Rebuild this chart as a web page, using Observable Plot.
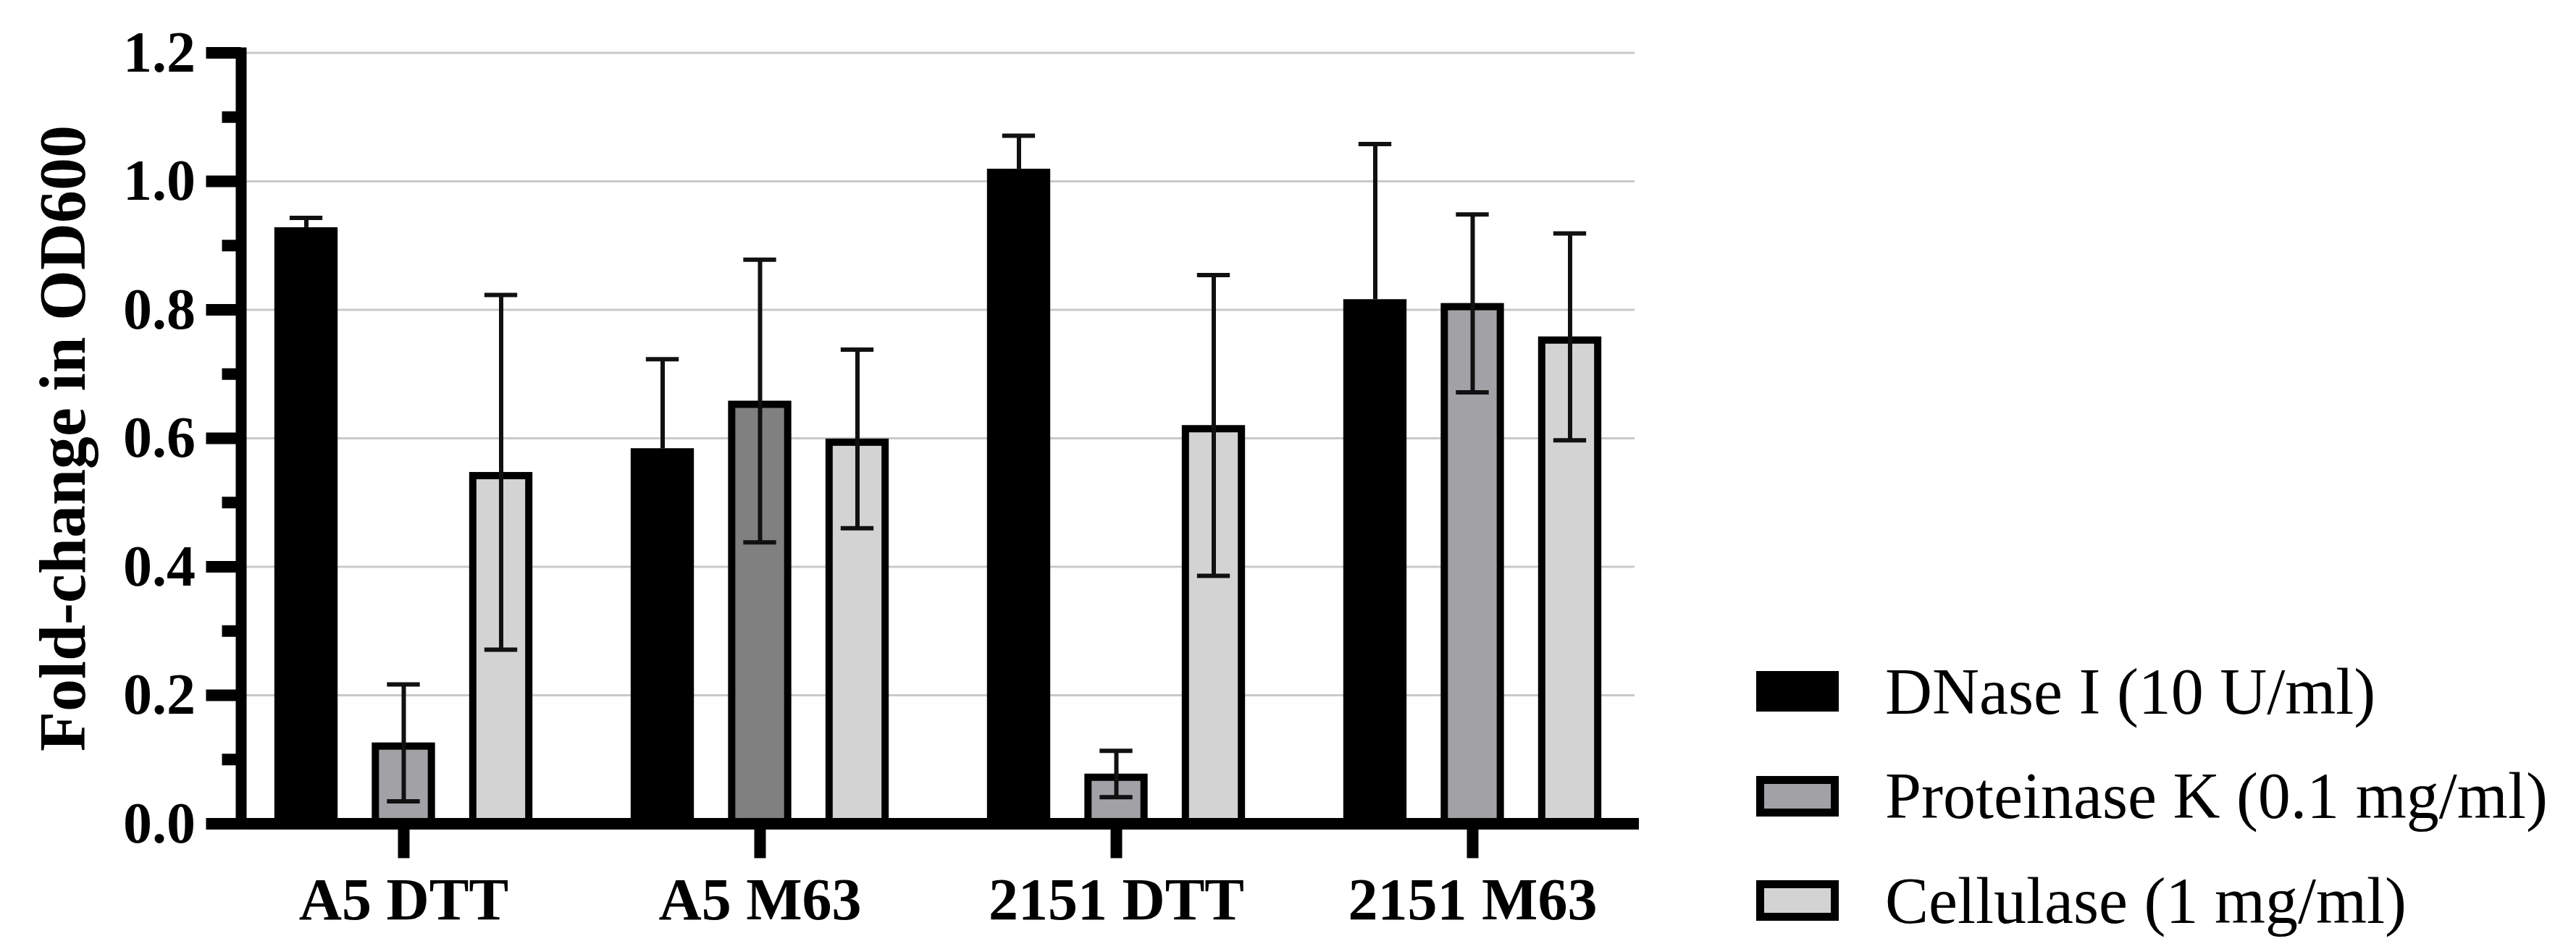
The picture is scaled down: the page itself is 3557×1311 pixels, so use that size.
<!DOCTYPE html>
<html>
<head>
<meta charset="utf-8">
<script src="https://cdn.jsdelivr.net/npm/d3@7"></script>
<script src="https://cdn.jsdelivr.net/npm/@observablehq/plot@0.6"></script>
<style>
html, body { margin: 0; padding: 0; background: #fff; }
#wrap { position: relative; width: 3557px; height: 1311px; overflow: hidden; background: #fff; }
#legend { position: absolute; left: 2425px; top: 882.75px; font-family: "Liberation Serif", "Times New Roman", serif; font-size: 90px; color: #000; }
.row { display: flex; align-items: center; height: 144.5px; white-space: nowrap; }
.sw { width: 114px; height: 56px; box-sizing: border-box; margin-right: 64px; flex: none; }
</style>
</head>
<body>
<div id="wrap"></div>
<script>
// ---- data ----
const categories = ["A5 DTT", "A5 M63", "2151 DTT", "2151 M63"];
const seriesNames = ["DNase I (10 U/ml)", "Proteinase K (0.1 mg/ml)", "Cellulase (1 mg/ml)"];
const dnaseMean = [0.928, 0.584, 1.019, 0.816];
const dnaseErr  = [0.015, 0.139, 0.052, 0.242];
const protKMean = [0.126, 0.658, 0.0775, 0.810];
const protKErr  = [0.091, 0.220, 0.036, 0.1385];
const cellMean  = [0.547, 0.599, 0.620, 0.758];
const cellErr   = [0.276, 0.139, 0.234, 0.161];
const yTicks = [0.0, 0.2, 0.4, 0.6, 0.8, 1.0, 1.2];
const yMinorTicks = [0.1, 0.3, 0.5, 0.7, 0.9, 1.1];
const yLabel = "Fold-change in OD600";

// ---- build table ----
const seriesMeans = [dnaseMean, protKMean, cellMean];
const seriesErrs = [dnaseErr, protKErr, cellErr];
const rows = seriesNames.flatMap((name, si) =>
  categories.map((c, i) => ({category: c, series: name, si, mean: seriesMeans[si][i], err: seriesErrs[si][i]}))
);

// ---- styles ----
const xRange = [309.7, 2280.3];
const bw = (xRange[1] - xRange[0]) / categories.length;
const barW = 78, capW = 46;
const offsets = [-134.5, 0, 134.5];
const protGrey = "#a2a2a6";
const fills = [
  () => "#000000",
  d => d.category === "A5 M63" ? "#808080" : protGrey,
  () => "#d3d3d3"
];
const swatchFill = ["#000000", protGrey, "#d3d3d3"];

const marks = [
  Plot.gridY({ticks: yTicks.filter(v => v > 0), stroke: "#c9c9c9", strokeOpacity: 1, strokeWidth: 3, insetRight: 6})
];
seriesNames.forEach((name, si) => {
  const data = rows.filter(d => d.si === si);
  marks.push(Plot.barY(data, {
    x: "category", y: "mean", fill: fills[si], stroke: "#000", strokeWidth: 10,
    insetLeft: (bw - barW) / 2, insetRight: (bw - barW) / 2, insetTop: 5, dx: offsets[si]
  }));
});
seriesNames.forEach((name, si) => {
  const data = rows.filter(d => d.si === si);
  // the lower half of the error bar is hidden inside the solid black bars
  const showLower = si !== 0;
  marks.push(Plot.ruleX(data, {x: "category", y1: d => showLower ? d.mean - d.err : d.mean, y2: d => d.mean + d.err, stroke: "#111", strokeWidth: 6, dx: offsets[si]}));
  marks.push(Plot.tickY(data, {x: "category", y: d => d.mean + d.err, stroke: "#111", strokeWidth: 6, insetLeft: (bw - capW) / 2, insetRight: (bw - capW) / 2, dx: offsets[si]}));
  if (showLower) {
    marks.push(Plot.tickY(data, {x: "category", y: d => d.mean - d.err, stroke: "#111", strokeWidth: 6, insetLeft: (bw - capW) / 2, insetRight: (bw - capW) / 2, dx: offsets[si]}));
  }
});
marks.push(
  Plot.ruleY([0], {strokeWidth: 16, stroke: "#000"}),
  Plot.axisY({ticks: yMinorTicks, tickSize: 26, strokeWidth: 16, text: null, label: null}),
  Plot.axisY({ticks: yTicks, tickSize: 48, tickPadding: 15, strokeWidth: 16, fontSize: 80, fontWeight: "bold", tickFormat: d3.format(".1f"), label: null}),
  Plot.axisX({tickSize: 48, tickPadding: 26, strokeWidth: 16, fontSize: 82, fontWeight: "bold", label: null}),
  Plot.frame({anchor: "left", strokeWidth: 15, stroke: "#000", strokeLinecap: "square"}),
  Plot.text([yLabel], {frameAnchor: "left", rotate: -90, textAnchor: "middle", dx: -280, lineAnchor: "top", fontSize: 90, fontWeight: "bold"})
);

const chart = Plot.plot({
  width: 3557,
  height: 1311,
  marginLeft: 332.5,
  marginRight: 1294,
  marginTop: 72.5,
  marginBottom: 173.5,
  x: {domain: categories, range: xRange, padding: 0},
  y: {domain: [0, 1.2]},
  color: {type: "identity"},
  style: {fontFamily: "'Liberation Serif', 'Times New Roman', serif", background: "white", color: "black", overflow: "visible"},
  marks
});

const wrap = document.getElementById("wrap");
wrap.appendChild(chart);

// ---- legend ----
const legend = document.createElement("div");
legend.id = "legend";
seriesNames.forEach((name, si) => {
  const row = document.createElement("div");
  row.className = "row";
  const sw = document.createElement("div");
  sw.className = "sw";
  sw.style.background = swatchFill[si];
  sw.style.border = si === 0 ? "none" : "11px solid #000";
  const label = document.createElement("span");
  label.textContent = name;
  row.appendChild(sw);
  row.appendChild(label);
  legend.appendChild(row);
});
wrap.appendChild(legend);
</script>
</body>
</html>
